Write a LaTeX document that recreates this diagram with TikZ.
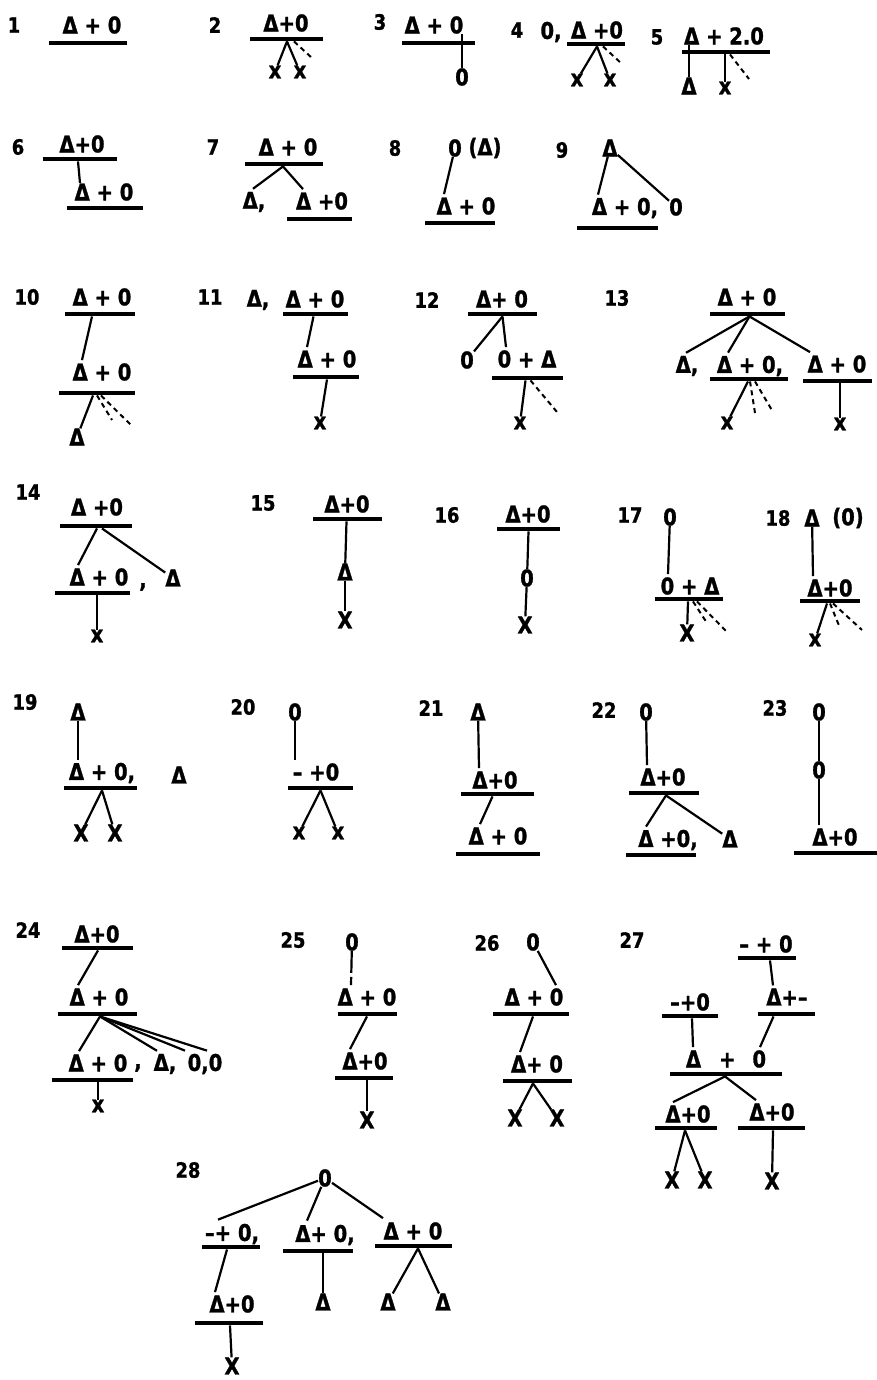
\documentclass[tikz,border=0pt]{standalone}
\usepackage{fontspec}
\setmainfont{DejaVu Sans}
\newfontfamily\handfont{DejaVu Sans}[FakeStretch=0.85, FakeBold=1.2]
\usepackage{tikz}

\begin{document}
\begin{tikzpicture}[x=1pt, y=-1pt,
  txt/.style={font=\handfont\bfseries\fontsize{23}{25}\selectfont, inner sep=0pt},
  num/.style={font=\handfont\bfseries\fontsize{21}{23}\selectfont, inner sep=0pt},
  bar/.style={fill=black, inner sep=0pt, minimum height=4.5pt},
  edge/.style={line width=2.2pt},
  ghost/.style={line width=2pt, dash pattern=on 5pt off 4pt}]
\useasboundingbox (0,0) rectangle (877,1380);
\fill[white] (0,0) rectangle (877,1380);

% Tree 1
\node[num] (n1) at (14,25) {1};
\node[txt] (t1) at (92,25) {Δ + 0};
\node[bar, minimum width=78pt] (u1) at (88,43) {};

% Tree 2
\node[num] (n2) at (215,25) {2};
\node[txt] (t2) at (286,23) {Δ+0};
\node[bar, minimum width=73pt] (u2) at (286,39) {};
\node[txt] (x2a) at (275,72) {x};
\node[txt] (x2b) at (300,72) {x};
\coordinate (g2) at (312,58);
\draw[edge] ([xshift=1pt]u2.south) -- (x2a);
\draw[edge] ([xshift=1pt]u2.south) -- (x2b);
\draw[ghost] ([xshift=8pt]u2.south) -- (g2);

% Tree 3
\node[num] (n3) at (380,22) {3};
\node[txt] (t3) at (434,25) {Δ + 0};
\node[bar, minimum width=73pt] (u3) at (438.5,43) {};
\node[txt] (o3) at (462,77) {0};
\draw[edge] (o3) -- (o3 |- t3.south);

% Tree 4
\node[num] (n4) at (517,30) {4};
\node[txt] (c4) at (551,32) {0,};
\node[txt] (t4) at (597,30) {Δ +0};
\node[bar, minimum width=58pt] (u4) at (596,44) {};
\node[txt] (x4a) at (577,80) {x};
\node[txt] (x4b) at (610,80) {x};
\coordinate (g4) at (622,64);
\draw[edge] ([xshift=1pt]u4.south) -- (x4a);
\draw[edge] ([xshift=1pt]u4.south) -- (x4b);
\draw[ghost] ([xshift=7pt]u4.south) -- (g4);

% Tree 5
\node[num] (n5) at (657,37) {5};
\node[txt] (t5) at (724,36) {Δ + 2.0};
\node[bar, minimum width=88pt] (u5) at (726,52) {};
\node[txt] (d5) at (689,86) {Δ};
\node[txt] (x5) at (725,88) {x};
\coordinate (g5) at (749,79);
\draw[edge] (d5) -- (d5 |- t5.south);
\draw[edge] (x5) -- (x5 |- u5.south);
\draw[ghost] ([xshift=4pt]u5.south) -- (g5);

% Tree 6
\node[num] (n6) at (18,147) {6};
\node[txt] (t6a) at (82,144) {Δ+0};
\node[bar, minimum width=74pt] (u6a) at (80,159) {};
\node[txt] (t6b) at (104,192) {Δ + 0};
\node[bar, minimum width=76pt] (u6b) at (105,208) {};
\draw[edge] ([xshift=-2pt]u6a.south) -- ([xshift=-24pt]t6b.north);

% Tree 7
\node[num] (n7) at (213,147) {7};
\node[txt] (t7a) at (288,147) {Δ + 0};
\node[bar, minimum width=78pt] (u7a) at (284,164) {};
\node[txt] (d7) at (254,202) {Δ,};
\node[txt] (t7b) at (322,201) {Δ +0};
\node[bar, minimum width=65pt] (u7b) at (319.5,219) {};
\draw[edge] ([xshift=-1pt]u7a.south) -- ([xshift=-1pt,yshift=3pt]d7.north);
\draw[edge] ([xshift=-1pt]u7a.south) -- ([xshift=-19pt,yshift=3pt]t7b.north);

% Tree 8
\node[num] (n8) at (395,148) {8};
\node[txt] (o8) at (455,148) {0};
\node[txt] (p8) at (485,148) {(Δ)};
\node[txt] (t8) at (466,206) {Δ + 0};
\node[bar, minimum width=70pt] (u8) at (460,223) {};
\draw[edge] (o8) -- ([xshift=-22pt,yshift=3pt]t8.north);

% Tree 9
\node[num] (n9) at (562,150) {9};
\node[txt] (d9) at (610,148) {Δ};
\node[txt] (t9) at (625,208) {Δ + 0,};
\node[txt] (o9) at (676,207) {0};
\node[bar, minimum width=81pt] (u9) at (617.5,228) {};
\draw[edge] (d9) -- ([xshift=-27pt,yshift=3pt]t9.north);
\draw[edge] (d9) -- (o9);

% Tree 10
\node[num] (n10) at (27,297) {10};
\node[txt] (t10a) at (102,297) {Δ + 0};
\node[bar, minimum width=70pt] (u10a) at (100,314) {};
\node[txt] (t10b) at (102,372) {Δ + 0};
\node[bar, minimum width=76pt] (u10b) at (97,393) {};
\node[txt] (d10) at (77,437) {Δ};
\coordinate (g10a) at (112,420);
\coordinate (g10b) at (133,427);
\draw[edge] ([xshift=-8pt]u10a.south) -- ([xshift=-20pt,yshift=3pt]t10b.north);
\draw[edge] ([xshift=-4pt]u10b.south) -- (d10);
\draw[ghost] (u10b.south) -- (g10a);
\draw[ghost] ([xshift=4pt]u10b.south) -- (g10b);

% Tree 11
\node[num] (n11) at (210,297) {11};
\node[txt] (d11) at (258,300) {Δ,};
\node[txt] (t11a) at (315,299) {Δ + 0};
\node[bar, minimum width=65pt] (u11a) at (315.5,314) {};
\node[txt] (t11b) at (327,359) {Δ + 0};
\node[bar, minimum width=66pt] (u11b) at (326,377) {};
\node[txt] (x11) at (320,423) {x};
\draw[edge] ([xshift=-2pt]u11a.south) -- ([xshift=-20pt,yshift=3pt]t11b.north);
\draw[edge] ([xshift=1pt]u11b.south) -- (x11);

% Tree 12
\node[num] (n12) at (427,300) {12};
\node[txt] (t12a) at (502,299) {Δ+ 0};
\node[bar, minimum width=69pt] (u12a) at (502.5,314) {};
\node[txt] (o12) at (467,360) {0};
\node[txt] (t12b) at (527,359) {0 + Δ};
\node[bar, minimum width=71pt] (u12b) at (527.5,378) {};
\node[txt] (x12) at (520,423) {x};
\coordinate (g12) at (557,412);
\draw[edge] (u12a.south) -- (o12);
\draw[edge] (u12a.south) -- ([xshift=-21pt,yshift=3pt]t12b.north);
\draw[edge] ([xshift=-2pt]u12b.south) -- (x12);
\draw[ghost] ([xshift=3pt]u12b.south) -- (g12);

% Tree 13
\node[num] (n13) at (617,298) {13};
\node[txt] (t13a) at (747,297) {Δ + 0};
\node[bar, minimum width=75pt] (u13a) at (747.5,314) {};
\node[txt] (d13) at (687,366) {Δ,};
\node[txt] (t13b) at (750,366) {Δ + 0,};
\node[bar, minimum width=78pt] (u13b) at (749,379) {};
\node[txt] (t13c) at (837,364) {Δ + 0};
\node[bar, minimum width=69pt] (u13c) at (837.5,381) {};
\node[txt] (x13a) at (727,423) {x};
\node[txt] (x13b) at (840,424) {x};
\coordinate (g13a) at (755,413);
\coordinate (g13b) at (773,412);
\draw[edge] ([xshift=2pt]u13a.south) -- ([xshift=-1pt,yshift=3pt]d13.north);
\draw[edge] ([xshift=2pt]u13a.south) -- ([xshift=-22pt,yshift=3pt]t13b.north);
\draw[edge] ([xshift=2pt]u13a.south) -- ([xshift=-27pt,yshift=3pt]t13c.north);
\draw[edge] ([xshift=-1pt]u13b.south) -- (x13a);
\draw[ghost] ([xshift=1pt]u13b.south) -- (g13a);
\draw[ghost] ([xshift=6pt]u13b.south) -- (g13b);
\draw[edge] ([xshift=2.5pt]u13c.south) -- (x13b);

% Tree 14
\node[num] (n14) at (28,492) {14};
\node[txt] (t14a) at (97,507) {Δ +0};
\node[bar, minimum width=72pt] (u14a) at (96,526) {};
\node[txt] (t14b) at (99,577) {Δ + 0};
\node[txt] (c14) at (143,587) {,};
\node[txt] (d14) at (173,578) {Δ};
\node[bar, minimum width=75pt] (u14b) at (92.5,593) {};
\node[txt] (x14) at (97,636) {x};
\draw[edge] ([xshift=1pt]u14a.south) -- ([xshift=-21pt,yshift=3pt]t14b.north);
\draw[edge] ([xshift=6pt]u14a.south) -- (d14);
\draw[edge] ([xshift=4.5pt]u14b.south) -- (x14);

% Tree 15
\node[num] (n15) at (263,503) {15};
\node[txt] (t15) at (347,504) {Δ+0};
\node[bar, minimum width=69pt] (u15) at (347.5,519) {};
\node[txt] (d15) at (345,572) {Δ};
\node[txt] (x15) at (345,620) {X};
\draw[edge] ([xshift=-1pt]u15.south) -- (d15);
\draw[edge] (d15) -- (x15);

% Tree 16
\node[num] (n16) at (447,515) {16};
\node[txt] (t16) at (528,514) {Δ+0};
\node[bar, minimum width=63pt] (u16) at (528.5,529) {};
\node[txt] (o16) at (527,578) {0};
\node[txt] (x16) at (525,625) {X};
\draw[edge] (u16.south) -- (o16);
\draw[edge] (o16) -- (x16);

% Tree 17
\node[num] (n17) at (630,515) {17};
\node[txt] (o17) at (670,517) {0};
\node[txt] (t17) at (690,586) {0 + Δ};
\node[bar, minimum width=68pt] (u17) at (689,599) {};
\node[txt] (x17) at (687,633) {X};
\coordinate (g17a) at (707,623);
\coordinate (g17b) at (727,632);
\draw[edge] (o17) -- ([xshift=-22pt,yshift=3pt]t17.north);
\draw[edge] ([xshift=-1pt]u17.south) -- (x17);
\draw[ghost] ([xshift=4pt]u17.south) -- (g17a);
\draw[ghost] ([xshift=8pt]u17.south) -- (g17b);

% Tree 18
\node[num] (n18) at (778,518) {18};
\node[txt] (d18) at (812,518) {Δ};
\node[txt] (p18) at (848,518) {(0)};
\node[txt] (t18) at (830,588) {Δ+0};
\node[bar, minimum width=60pt] (u18) at (830,601) {};
\node[txt] (x18) at (815,640) {x};
\coordinate (g18a) at (840,628);
\coordinate (g18b) at (862,630);
\draw[edge] (d18) -- ([xshift=-17pt,yshift=3pt]t18.north);
\draw[edge] ([xshift=-3pt]u18.south) -- (x18);
\draw[ghost] (u18.south) -- (g18a);
\draw[ghost] ([xshift=3pt]u18.south) -- (g18b);

% Tree 19
\node[num] (n19) at (25,702) {19};
\node[txt] (d19a) at (78,712) {Δ};
\node[txt] (t19) at (102,773) {Δ + 0,};
\node[txt] (d19b) at (179,775) {Δ};
\node[bar, minimum width=73pt] (u19) at (100.5,788) {};
\node[txt] (x19a) at (81,833) {X};
\node[txt] (x19b) at (115,833) {X};
\draw[edge] (d19a) -- ([xshift=-24pt,yshift=3pt]t19.north);
\draw[edge] ([xshift=1.5pt]u19.south) -- (x19a);
\draw[edge] ([xshift=1.5pt]u19.south) -- (x19b);

% Tree 20
\node[num] (n20) at (243,707) {20};
\node[txt] (o20) at (295,712) {0};
\node[txt] (t20) at (316,772) {– +0};
\node[bar, minimum width=65pt] (u20) at (320.5,788) {};
\node[txt] (x20a) at (299,833) {x};
\node[txt] (x20b) at (338,833) {x};
\draw[edge] (o20) -- ([xshift=-21pt,yshift=3pt]t20.north);
\draw[edge] (u20.south) -- (x20a);
\draw[edge] (u20.south) -- (x20b);

% Tree 21
\node[num] (n21) at (431,708) {21};
\node[txt] (d21) at (478,712) {Δ};
\node[txt] (t21a) at (495,780) {Δ+0};
\node[bar, minimum width=73pt] (u21a) at (497.5,794) {};
\node[txt] (t21b) at (498,836) {Δ + 0};
\node[bar, minimum width=84pt] (u21b) at (498,854) {};
\draw[edge] (d21) -- ([xshift=-16pt,yshift=3pt]t21a.north);
\draw[edge] ([xshift=-5pt]u21a.south) -- ([xshift=-18pt,yshift=3pt]t21b.north);

% Tree 22
\node[num] (n22) at (604,710) {22};
\node[txt] (o22) at (646,712) {0};
\node[txt] (t22a) at (663,777) {Δ+0};
\node[bar, minimum width=70pt] (u22a) at (664,793) {};
\node[txt] (t22b) at (668,840) {Δ +0,};
\node[txt] (d22) at (730,839) {Δ};
\node[bar, minimum width=70pt] (u22b) at (661,855) {};
\draw[edge] (o22) -- ([xshift=-16pt,yshift=3pt]t22a.north);
\draw[edge] ([xshift=2pt]u22a.south) -- ([xshift=-22pt,yshift=3pt]t22b.north);
\draw[edge] ([xshift=2pt]u22a.south) -- (d22);

% Tree 23
\node[num] (n23) at (775,708) {23};
\node[txt] (o23a) at (819,712) {0};
\node[txt] (o23b) at (819,770) {0};
\node[txt] (t23) at (835,837) {Δ+0};
\node[bar, minimum width=83pt] (u23) at (835.5,853) {};
\draw[edge] (o23a) -- (o23b);
\draw[edge] (o23b) -- ([xshift=-16pt,yshift=3pt]t23.north);

% Tree 24
\node[num] (n24) at (28,930) {24};
\node[txt] (t24a) at (97,934) {Δ+0};
\node[bar, minimum width=71pt] (u24a) at (97.5,948) {};
\node[txt] (t24b) at (99,997) {Δ + 0};
\node[bar, minimum width=79pt] (u24b) at (97.5,1014) {};
\node[txt] (t24c) at (98,1063) {Δ + 0};
\node[txt] (c24) at (138,1068) {,};
\node[txt] (d24) at (165,1064) {Δ,};
\node[txt] (o24) at (205,1064) {0,0};
\node[bar, minimum width=81pt] (u24c) at (92.5,1080) {};
\node[txt] (x24) at (98,1106) {x};
\draw[edge] ([xshift=0.5pt]u24a.south) -- ([xshift=-21pt,yshift=3pt]t24b.north);
\draw[edge] ([xshift=2.5pt]u24b.south) -- ([xshift=-19pt,yshift=3pt]t24c.north);
\draw[edge] ([xshift=2.5pt]u24b.south) -- ([xshift=-8pt,yshift=3pt]d24.north);
\draw[edge] ([xshift=2.5pt]u24b.south) -- ([xshift=-20pt,yshift=3pt]o24.north);
\draw[edge] ([xshift=2.5pt]u24b.south) -- ([xshift=2pt,yshift=3pt]o24.north);
\draw[edge] ([xshift=5.5pt]u24c.south) -- (x24);

% Tree 25
\node[num] (n25) at (293,940) {25};
\node[txt] (o25) at (352,942) {0};
\node[txt] (t25a) at (367,997) {Δ + 0};
\node[bar, minimum width=59pt] (u25a) at (367.5,1014) {};
\node[txt] (t25b) at (365,1061) {Δ+0};
\node[bar, minimum width=58pt] (u25b) at (364,1078) {};
\node[txt] (x25) at (367,1120) {X};
\draw[edge, dash pattern=on 22pt off 4pt] (o25) -- ([xshift=-16pt,yshift=3pt]t25a.north);
\draw[edge] ([xshift=-0.5pt]u25a.south) -- ([xshift=-15pt,yshift=3pt]t25b.north);
\draw[edge] ([xshift=3pt]u25b.south) -- (x25);

% Tree 26
\node[num] (n26) at (487,943) {26};
\node[txt] (o26) at (533,942) {0};
\node[txt] (t26a) at (534,997) {Δ + 0};
\node[bar, minimum width=76pt] (u26a) at (531,1014) {};
\node[txt] (t26b) at (537,1064) {Δ+ 0};
\node[bar, minimum width=69pt] (u26b) at (537.5,1081) {};
\node[txt] (x26a) at (515,1118) {X};
\node[txt] (x26b) at (557,1118) {X};
\draw[edge] (o26) -- ([xshift=22pt,yshift=3pt]t26a.north);
\draw[edge] ([xshift=2pt]u26a.south) -- ([xshift=-17pt,yshift=3pt]t26b.north);
\draw[edge] ([xshift=-4.5pt]u26b.south) -- (x26a);
\draw[edge] ([xshift=-4.5pt]u26b.south) -- (x26b);

% Tree 27
\node[num] (n27) at (632,940) {27};
\node[txt] (t27a) at (766,944) {– + 0};
\node[bar, minimum width=58pt] (u27a) at (767,958) {};
\node[txt] (t27b) at (787,997) {Δ+–};
\node[bar, minimum width=57pt] (u27b) at (786.5,1014) {};
\node[txt] (t27l) at (690,1002) {–+0};
\node[bar, minimum width=56pt] (u27l) at (690,1016) {};
\node[txt] (t27c) at (726,1059) {Δ\hspace{18pt}+\hspace{17pt}0};
\node[bar, minimum width=112pt] (u27c) at (726,1074) {};
\node[txt] (t27d) at (688,1114) {Δ+0};
\node[bar, minimum width=62pt] (u27d) at (686,1128) {};
\node[txt] (t27e) at (772,1112) {Δ+0};
\node[bar, minimum width=67pt] (u27e) at (771.5,1128) {};
\node[txt] (x27a) at (672,1180) {X};
\node[txt] (x27b) at (705,1180) {X};
\node[txt] (x27c) at (772,1181) {X};
\draw[edge] ([xshift=3pt]u27a.south) -- ([xshift=-14pt,yshift=3pt]t27b.north);
\draw[edge] ([xshift=-13pt]u27b.south) -- ([xshift=34pt,yshift=3pt]t27c.north);
\draw[edge] ([xshift=2pt]u27l.south) -- ([xshift=-33pt,yshift=3pt]t27c.north);
\draw[edge] ([xshift=-1pt]u27c.south) -- ([xshift=-15pt,yshift=3pt]t27d.north);
\draw[edge] ([xshift=-1pt]u27c.south) -- ([xshift=-16pt,yshift=3pt]t27e.north);
\draw[edge] ([xshift=-1pt]u27d.south) -- (x27a);
\draw[edge] ([xshift=-1pt]u27d.south) -- (x27b);
\draw[edge] ([xshift=1.5pt]u27e.south) -- (x27c);

% Tree 28
\node[num] (n28) at (188,1170) {28};
\node[txt] (o28) at (325,1178) {0};
\node[txt] (t28a) at (232,1234) {–+ 0,};
\node[bar, minimum width=58pt] (u28a) at (231,1247) {};
\node[txt] (t28b) at (325,1235) {Δ+ 0,};
\node[bar, minimum width=70pt] (u28b) at (318,1251) {};
\node[txt] (t28c) at (413,1231) {Δ + 0};
\node[bar, minimum width=77pt] (u28c) at (413.5,1246) {};
\node[txt] (t28d) at (232,1304) {Δ+0};
\node[bar, minimum width=68pt] (u28d) at (229,1323) {};
\node[txt] (x28) at (232,1366) {X};
\node[txt] (d28a) at (323,1302) {Δ};
\node[txt] (d28b) at (388,1302) {Δ};
\node[txt] (d28c) at (443,1302) {Δ};
\draw[edge] (o28) -- ([xshift=-14pt,yshift=4pt]t28a.north);
\draw[edge] (o28) -- ([xshift=-18pt,yshift=4pt]t28b.north);
\draw[edge] (o28) -- ([xshift=-30pt,yshift=4pt]t28c.north);
\draw[edge] ([xshift=-4pt]u28a.south) -- ([xshift=-17pt,yshift=3pt]t28d.north);
\draw[edge] ([xshift=1pt]u28d.south) -- (x28);
\draw[edge] ([xshift=5pt]u28b.south) -- (d28a);
\draw[edge] ([xshift=4.5pt]u28c.south) -- (d28b);
\draw[edge] ([xshift=4.5pt]u28c.south) -- (d28c);
\end{tikzpicture}
\end{document}
